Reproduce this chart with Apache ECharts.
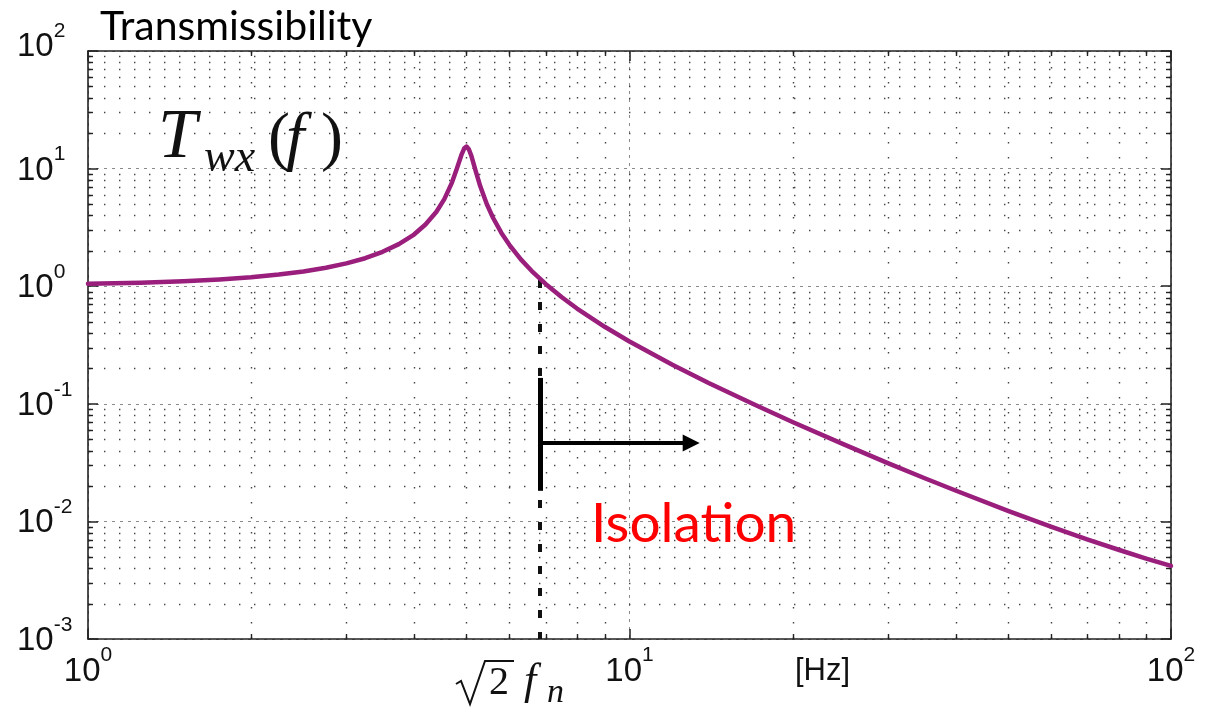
<!DOCTYPE html>
<html>
<head>
<meta charset="utf-8">
<script src="https://cdn.jsdelivr.net/npm/echarts@6/dist/echarts.min.js"></script>
<style>
html,body{margin:0;padding:0;background:#fff;}
#chart{width:1211px;height:714px;}
</style>
</head>
<body>
<div id="chart"></div>
<script>
// ---- data ----
const freqHz = [1, 1.25, 1.5, 1.75, 2, 2.25, 2.5, 2.75, 3, 3.25, 3.5, 3.75, 4, 4.2, 4.4, 4.55, 4.7, 4.8, 4.9, 4.95, 5.0, 5.05, 5.1, 5.2, 5.3, 5.45, 5.6, 5.8, 6, 6.3, 6.6, 7, 7.5, 8, 9, 10, 12, 14, 17, 20, 25, 30, 35, 40, 50, 60, 70, 80, 90, 100];
const transmissibility = [1.05, 1.068, 1.10, 1.14, 1.19, 1.255, 1.335, 1.435, 1.565, 1.73, 1.96, 2.28, 2.75, 3.35, 4.3, 5.5, 7.6, 10.0, 13.3, 14.8, 15.4, 14.6, 13.0, 9.5, 7.1, 5.0, 3.8, 2.84, 2.25, 1.69, 1.345, 1.045, 0.805, 0.646, 0.452, 0.339, 0.215, 0.1505, 0.0985, 0.070, 0.0447, 0.0313, 0.0234, 0.0183, 0.0123, 0.00903, 0.00705, 0.00574, 0.00483, 0.00418];
const xMinorTicks = [2, 3, 4, 5, 6, 7, 8, 9, 20, 30, 40, 50, 60, 70, 80, 90];
const yMinorTicks = [0.002, 0.003, 0.004, 0.005, 0.006, 0.007, 0.008, 0.009,
  0.02, 0.03, 0.04, 0.05, 0.06, 0.07, 0.08, 0.09,
  0.2, 0.3, 0.4, 0.5, 0.6, 0.7, 0.8, 0.9,
  2, 3, 4, 5, 6, 7, 8, 9,
  20, 30, 40, 50, 60, 70, 80, 90];
const crossoverHz = 6.84;          // sqrt(2) fn marker
const crossoverRange = [1.13, 0.001];
const isolationBar = [0.166, 0.0182];
const isolationArrow = [0.0464, 13.0]; // [level, end frequency]

const chart = echarts.init(document.getElementById('chart'), null, {renderer: 'canvas'});

const tickFont = '"Liberation Sans", Arial, sans-serif';
function expLabel(v) {
  const e = Math.round(Math.log10(v));
  let s = '{b|10}{s|' + e + '}';
  if (e === 2) s += '\n{g|}';
  return s;
}
const richLbl = {
  b: {fontSize: 33, fontFamily: tickFont, color: '#111', lineHeight: 43, verticalAlign: 'bottom'},
  s: {fontSize: 21, fontFamily: tickFont, color: '#111', lineHeight: 21, verticalAlign: 'top'},
  g: {lineHeight: 12, fontSize: 1}
};

const axisLineStyle = {color: '#222', width: 1.6};
const majorGrid = {show: true, lineStyle: {color: '#8a8a8a', width: 1, type: [3, 5]}};

function minorX(params, api) {
  const p = api.coord([api.value(0), 1]);
  const cs = params.coordSys;
  const x = Math.round(p[0]) + 0.5;
  const y0 = cs.y, y1 = cs.y + cs.height;
  return {type: 'group', silent: true, children: [
    {type: 'line', shape: {x1: x, y1: y0 + 1, x2: x, y2: y1}, style: {stroke: '#444', lineWidth: 1.4, lineDash: [1.4, 13.6]}},
    {type: 'line', shape: {x1: x, y1: y1, x2: x, y2: y1 - 5}, style: {stroke: '#222', lineWidth: 1.4}},
    {type: 'line', shape: {x1: x, y1: y0, x2: x, y2: y0 + 5}, style: {stroke: '#222', lineWidth: 1.4}}
  ]};
}
function minorY(params, api) {
  const p = api.coord([1, api.value(1)]);
  const cs = params.coordSys;
  const y = Math.round(p[1]) + 0.5;
  const x0 = cs.x, x1 = cs.x + cs.width;
  return {type: 'group', silent: true, children: [
    {type: 'line', shape: {x1: x0 + 1, y1: y, x2: x1, y2: y}, style: {stroke: '#444', lineWidth: 1.4, lineDash: [1.4, 13.6]}},
    {type: 'line', shape: {x1: x0, y1: y, x2: x0 + 5, y2: y}, style: {stroke: '#222', lineWidth: 1.4}},
    {type: 'line', shape: {x1: x1, y1: y, x2: x1 - 5, y2: y}, style: {stroke: '#222', lineWidth: 1.4}}
  ]};
}

const option = {
  animation: false,
  backgroundColor: '#fff',
  grid: {left: 88, right: 40, top: 51, bottom: 75, containLabel: false, outerBoundsMode: 'none'},
  xAxis: [
    {type: 'log', logBase: 10, min: 1, max: 100, position: 'bottom',
     axisLine: {show: true, lineStyle: axisLineStyle},
     axisTick: {show: true, inside: true, length: 10, lineStyle: {color: '#222', width: 1.5}},
     axisLabel: {formatter: expLabel, rich: richLbl, margin: 6, align: 'center'},
     splitLine: majorGrid},
    {type: 'log', logBase: 10, min: 1, max: 100, position: 'top',
     axisLine: {show: true, lineStyle: axisLineStyle},
     axisTick: {show: true, inside: true, length: 10, lineStyle: {color: '#222', width: 1.5}},
     axisLabel: {show: false}, splitLine: {show: false}}
  ],
  yAxis: [
    {type: 'log', logBase: 10, min: 0.001, max: 100, position: 'left',
     axisLine: {show: true, lineStyle: axisLineStyle},
     axisTick: {show: true, inside: true, length: 10, lineStyle: {color: '#222', width: 1.5}},
     axisLabel: {formatter: expLabel, rich: richLbl, margin: 71, align: 'left', padding: [0, 0, 6, 0]},
     splitLine: majorGrid},
    {type: 'log', logBase: 10, min: 0.001, max: 100, position: 'right',
     axisLine: {show: true, lineStyle: axisLineStyle},
     axisTick: {show: true, inside: true, length: 10, lineStyle: {color: '#222', width: 1.5}},
     axisLabel: {show: false}, splitLine: {show: false}}
  ],
  series: [
    {type: 'custom', name: 'minorX', xAxisIndex: 0, yAxisIndex: 0, z: 1, silent: true,
     renderItem: minorX, data: xMinorTicks.map(v => [v, 1])},
    {type: 'custom', name: 'minorY', xAxisIndex: 0, yAxisIndex: 0, z: 1, silent: true,
     renderItem: minorY, data: yMinorTicks.map(v => [1, v])},
    {type: 'line', name: 'Twx', xAxisIndex: 0, yAxisIndex: 0, z: 5,
     data: freqHz.map((f, i) => [f, transmissibility[i]]),
     showSymbol: false, symbol: 'none', smooth: false,
     lineStyle: {color: '#9a1e7c', width: 4.5, join: 'round', cap: 'round'},
     markLine: {
       silent: true, animation: false, symbol: ['none', 'none'], label: {show: false},
       z: 4,
       data: [
         [{coord: [crossoverHz, crossoverRange[0]], lineStyle: {color: '#111', width: 4, type: [8, 14]}},
          {coord: [crossoverHz, crossoverRange[1]]}],
         [{coord: [crossoverHz, isolationBar[0]], lineStyle: {color: '#000', width: 5, type: 'solid'}},
          {coord: [crossoverHz, isolationBar[1]]}],
         [{coord: [crossoverHz, isolationArrow[0]], symbol: 'none', lineStyle: {color: '#000', width: 4, type: 'solid'}},
          {coord: [isolationArrow[1], isolationArrow[0]], symbol: 'triangle', symbolSize: [17, 17]}]
       ]
     }}
  ],
  graphic: [
    {type: 'text', x: 100, y: 6, z: 10,
     style: {text: 'Transmissibility', font: '41px Lato, "Open Sans", sans-serif', fill: '#000'}},
    {type: 'text', x: 158, y: 104, z: 10,
     style: {text: 'T', font: 'italic 70px "Liberation Serif", serif', fill: '#111'}},
    {type: 'text', x: 204, y: 136, z: 10,
     style: {text: 'wx', font: 'italic 46px "Liberation Serif", serif', fill: '#111'}},
    {type: 'text', x: 268, y: 108, z: 10,
     style: {text: '(', font: '66px "Liberation Serif", serif', fill: '#111'}},
    {type: 'text', x: 286, y: 108, z: 10,
     style: {text: 'f', font: 'italic 66px "Liberation Serif", serif', fill: '#111'}},
    {type: 'text', x: 321, y: 108, z: 10,
     style: {text: ')', font: '66px "Liberation Serif", serif', fill: '#111'}},
    {type: 'polyline', z: 10, silent: true,
     shape: {points: [[456, 684], [461, 681], [470, 704], [485, 661], [514, 661]]},
     style: {stroke: '#111', lineWidth: 2, fill: null, lineJoin: 'miter'}},
    {type: 'text', x: 489, y: 663, z: 10,
     style: {text: '2', font: '40px "Liberation Serif", serif', fill: '#111'}},
    {type: 'text', x: 524, y: 660, z: 10,
     style: {text: 'f', font: 'italic 44px "Liberation Serif", serif', fill: '#111'}},
    {type: 'text', x: 547, y: 676, z: 10,
     style: {text: 'n', font: 'italic 34px "Liberation Serif", serif', fill: '#111'}},
    {type: 'text', x: 795, y: 656, z: 10,
     style: {text: '[Hz]', font: '31px "Liberation Sans", Arial, sans-serif', fill: '#111'}},
    {type: 'text', x: 591, y: 497, z: 10,
     style: {text: 'Isolation', font: '55px Lato, "Open Sans", sans-serif', fill: '#ff0000'}}
  ]
};
chart.setOption(option);
</script>
</body>
</html>
